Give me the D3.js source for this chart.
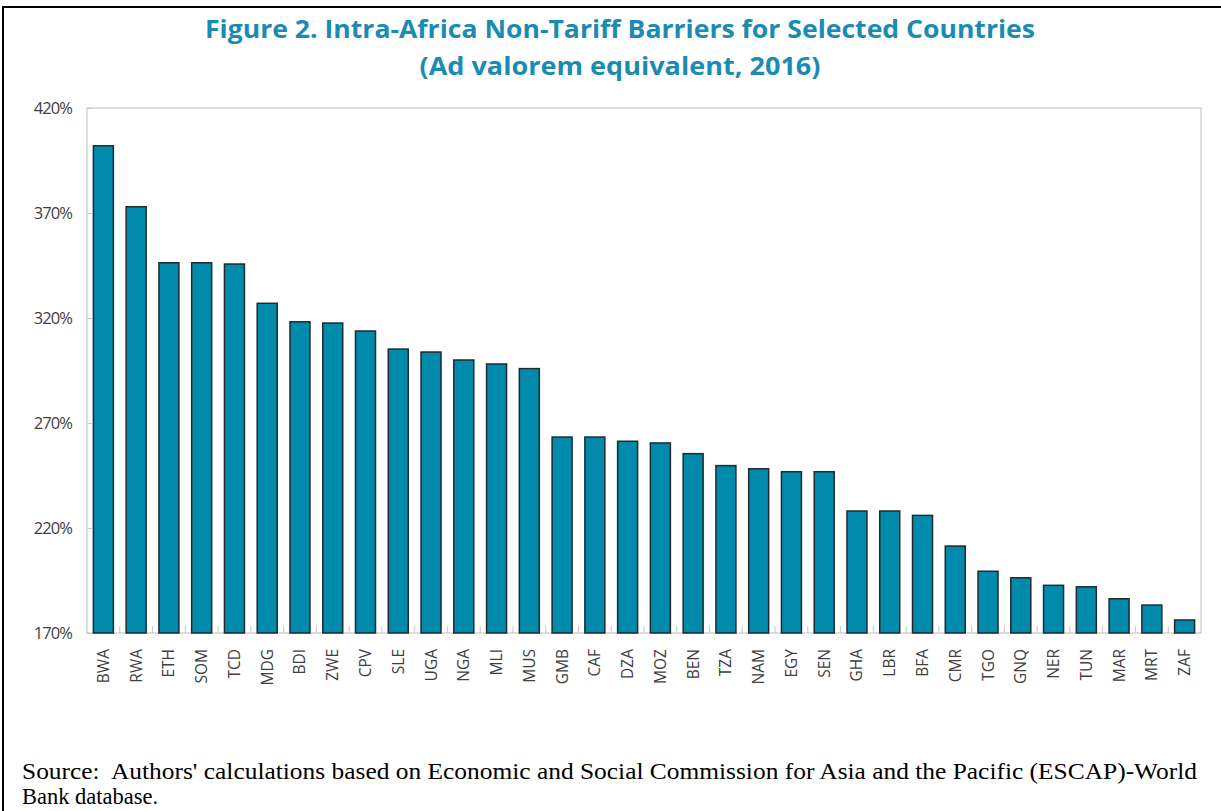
<!DOCTYPE html>
<html>
<head>
<meta charset="utf-8">
<script src="https://cdn.jsdelivr.net/npm/d3@7"></script>
<style>
  body { margin: 0; background: #fff; }
  svg { display: block; }
  text { white-space: pre; }
</style>
</head>
<body>
<svg></svg>
<script>
var width  = 1221;
var height = 811;

var countries = ['BWA', 'RWA', 'ETH', 'SOM', 'TCD', 'MDG', 'BDI', 'ZWE', 'CPV', 'SLE',
                 'UGA', 'NGA', 'MLI', 'MUS', 'GMB', 'CAF', 'DZA', 'MOZ', 'BEN', 'TZA',
                 'NAM', 'EGY', 'SEN', 'GHA', 'LBR', 'BFA', 'CMR', 'TGO', 'GNQ', 'NER',
                 'TUN', 'MAR', 'MRT', 'ZAF'];
var ave = [402.0, 373.0, 346.3, 346.3, 345.7, 327.0, 318.2, 317.6, 313.8, 305.2,
           303.8, 300.0, 298.1, 295.9, 263.3, 263.3, 261.3, 260.5, 255.4, 249.7,
           248.2, 246.8, 246.8, 228.1, 228.1, 226.0, 211.4, 199.4, 196.3, 192.7,
           192.0, 186.3, 183.3, 176.2];
var yTicks = [170, 220, 270, 320, 370, 420];

var titleLines = ['Figure 2. Intra-Africa Non-Tariff Barriers for Selected Countries',
                  '(Ad valorem equivalent, 2016)'];
var sourceLines = ["Source:  Authors' calculations based on Economic and Social Commission for Asia and the Pacific (ESCAP)-World",
                   'Bank database.'];

var plot = {left: 87, right: 1201, top: 108, bottom: 633};

var svg = d3.select('svg')
        .attr('width', width)
        .attr('height', height);

// outer frame (runs off the right and bottom edges)
svg.append('rect')
        .attr('x', 3)
        .attr('y', 7)
        .attr('width', 1240)
        .attr('height', 840)
        .attr('fill', 'none')
        .attr('stroke', '#000')
        .attr('stroke-width', 2);

var xScale = d3.scaleBand()
                    .domain(countries)
                    .range([plot.left, plot.right])
                    .paddingInner(0.39)
                    .paddingOuter(0.195);

var yScale = d3.scaleLinear()
                    .domain([170, 420])
                    .range([plot.bottom, plot.top]);

// plot area border
svg.append('rect')
        .attr('x', plot.left)
        .attr('y', plot.top)
        .attr('width', plot.right - plot.left)
        .attr('height', plot.bottom - plot.top)
        .attr('fill', 'none')
        .attr('stroke', '#c8c8c8')
        .attr('stroke-width', 1.2);

var yAxis = d3.axisLeft(yScale)
                    .tickValues(yTicks)
                    .tickSize(-5)
                    .tickPadding(15)
                    .tickFormat(d => d + '%');

var gy = svg.append('g')
        .attr('transform', 'translate(' + plot.left + ', 0)')
        .call(yAxis);
gy.select('.domain').remove();
gy.selectAll('line').attr('stroke', '#c8c8c8');
gy.selectAll('text')
        .attr('font-family', '"Open Sans", sans-serif')
        .attr('font-size', 16.5)
        .attr('fill', '#404040')
        .attr('letter-spacing', -0.9);

// category boundary ticks on the bottom axis
var step = xScale.step();
svg.append('g')
    .selectAll('line')
    .data(countries.slice(1))
    .enter()
    .append('line')
        .attr('x1', d => xScale(d) - xScale.paddingInner() * step / 2)
        .attr('x2', d => xScale(d) - xScale.paddingInner() * step / 2)
        .attr('y1', plot.bottom)
        .attr('y2', plot.bottom - 7)
        .attr('stroke', '#c8c8c8');

svg.append('g')
    .selectAll('rect')
    .data(countries)
    .enter()
    .append('rect')
        .attr('x', d => xScale(d))
        .attr('y', (d, i) => yScale(ave[i]))
        .attr('width', xScale.bandwidth())
        .attr('height', (d, i) => plot.bottom - yScale(ave[i]))
        .attr('fill', '#008bad')
        .attr('stroke', '#1f2a2e')
        .attr('stroke-width', 1.5);

svg.append('g')
    .selectAll('text')
    .data(countries)
    .enter()
    .append('text')
        .attr('transform', d => 'translate(' + (xScale(d) + xScale.bandwidth() / 2 + 5.5) + ',' + (plot.bottom + 16) + ') rotate(-90)')
        .attr('text-anchor', 'end')
        .attr('font-family', '"Open Sans", sans-serif')
        .attr('font-size', 15.5)
        .attr('fill', '#404040')
        .text(d => d);

var titleWidths = [830, 401];
svg.append('g')
    .selectAll('text')
    .data(titleLines)
    .enter()
    .append('text')
        .attr('x', 620)
        .attr('y', (d, i) => 38 + i * 37)
        .attr('text-anchor', 'middle')
        .attr('font-family', '"Open Sans", sans-serif')
        .attr('font-weight', 'bold')
        .attr('font-size', 25)
        .attr('fill', '#1a8bb3')
        .attr('textLength', (d, i) => titleWidths[i])
        .attr('lengthAdjust', 'spacingAndGlyphs')
        .text(d => d);

svg.append('g')
    .selectAll('text')
    .data(sourceLines)
    .enter()
    .append('text')
        .attr('x', 22)
        .attr('y', (d, i) => 779 + i * 25)
        .attr('font-family', '"Liberation Serif", "Times New Roman", serif')
        .attr('font-size', 22.5)
        .attr('fill', '#000')
        .attr('textLength', (d, i) => i === 0 ? 1175 : null)
        .attr('lengthAdjust', 'spacingAndGlyphs')
        .text(d => d);
</script>
</body>
</html>
